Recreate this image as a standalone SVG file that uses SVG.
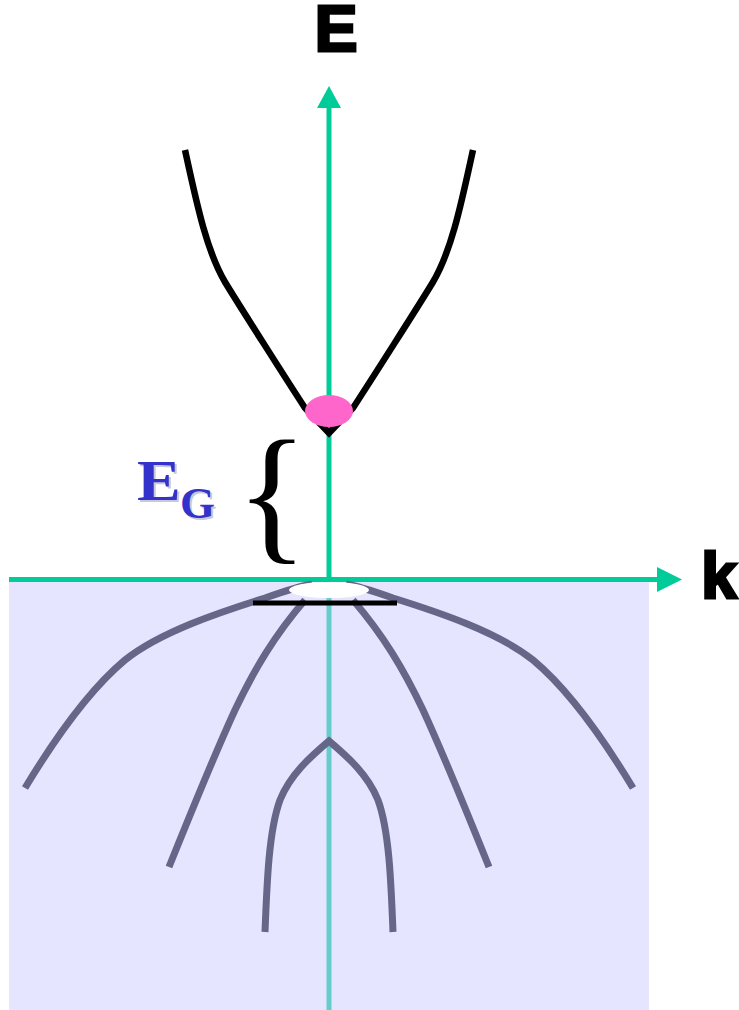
<svg xmlns="http://www.w3.org/2000/svg" width="739" height="1010" viewBox="0 0 739 1010">
<style>
.axis{stroke:#00CC99;stroke-width:5;fill:none}
.head{fill:#00CC99}
.cb{stroke:#000;stroke-width:6.5;fill:none;stroke-linejoin:miter}
.vb{stroke:#666688;stroke-width:7;fill:none}
.lbl{font-family:"Liberation Sans",Arial,sans-serif;font-weight:bold;fill:#000;stroke:#000;stroke-width:3;stroke-linejoin:miter}
.eg{font-family:"Liberation Serif","Times New Roman",serif;font-weight:bold;fill:#3333CC}
.egs{font-family:"Liberation Serif","Times New Roman",serif;font-weight:bold;fill:#C8C8D8}
</style>
<rect width="739" height="1010" fill="#FFFFFF"/>
<g id="axes">
<line class="axis" x1="329" y1="105" x2="329" y2="1010"/>
<polygon class="head" points="329,86 317,108 341,108"/>
<line class="axis" x1="9" y1="579.5" x2="660" y2="579.5"/>
<polygon class="head" points="682,579.5 657,567 657,592"/>
</g>
<rect id="valence-region" x="9" y="582" width="640" height="428" fill="#CCCCFF" fill-opacity="0.5"/>
<g id="conduction-band">
<path class="cb" d="M185,150 C196,200 206,250 225,282 C237,302 290,385 305,408 L329,433 L353,408 C368,385 421,302 433,282 C452,250 462,200 473,150"/>
<ellipse cx="329" cy="411" rx="24" ry="16" fill="#FF66CC"/>
</g>
<g id="valence-bands">
<path class="vb" d="M25,788 C60,730 95,685 125,660 C160,632 220,612 265,598 C285,591 300,586 312,584"/>
<path class="vb" d="M633,788 C598,730 563,685 533,660 C498,632 438,612 393,598 C373,591 358,586 346,584"/>
<path class="vb" d="M169,867 C190,815 212,760 235,710 C255,668 275,635 305,600"/>
<path class="vb" d="M489,867 C468,815 446,760 423,710 C403,668 383,635 353,600"/>
<path class="vb" d="M265,932 C267,880 269,830 280,800 C290,775 310,757 329,741 C348,757 368,775 378,800 C389,830 391,880 393,932"/>
<line x1="253" y1="603" x2="397" y2="603" stroke="#000" stroke-width="5"/>
<ellipse cx="329" cy="590" rx="40" ry="8" fill="#FFFFFF"/>
</g>
<g id="labels">
<text class="lbl" x="336" y="51" font-size="64" text-anchor="middle">E</text>
<text class="lbl" x="719" y="598" font-size="64" text-anchor="middle">k</text>
<text class="egs" transform="translate(139,502) scale(1.15,1)" font-size="57">E</text>
<text class="egs" x="182" y="520" font-size="45">G</text>
<text class="eg" transform="translate(137,500) scale(1.15,1)" font-size="57">E</text>
<text class="eg" x="180" y="518" font-size="45">G</text>
<text x="272" y="544" font-family="'Liberation Serif','Times New Roman',serif" font-size="150" text-anchor="middle">{</text>
</g>
</svg>
